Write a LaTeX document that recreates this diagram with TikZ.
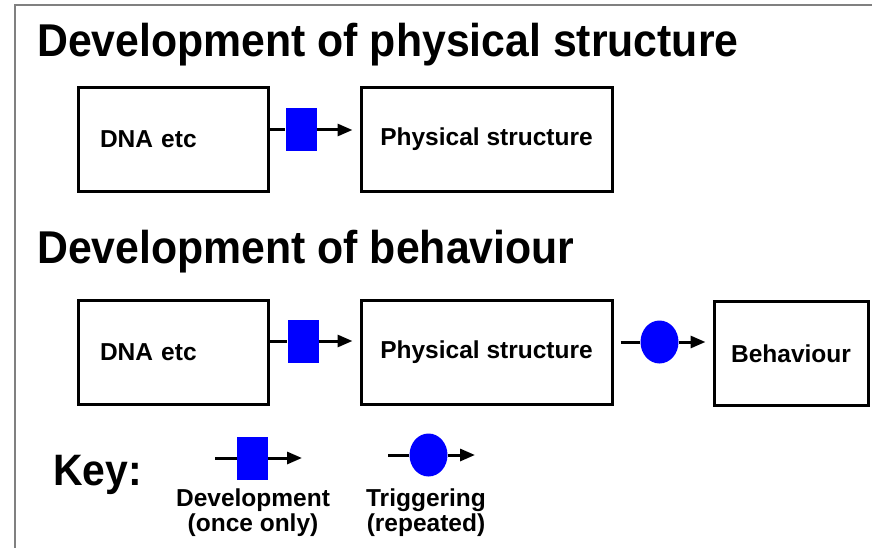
\documentclass[tikz,border=0pt]{standalone}
\usepackage{fontspec}
\setmainfont{Liberation Sans}
\newfontfamily\headfont[FakeStretch=0.93]{Liberation Sans}
\usetikzlibrary{arrows.meta,shapes.geometric}
\begin{document}
\begin{tikzpicture}[x=1pt,y=-1pt,
    box/.style={draw,line width=3pt,minimum height=104pt,
      font=\fontsize{24.5}{28}\selectfont\bfseries},
    dnabox/.style={box,text width=146pt,inner xsep=22pt,align=left},
    dev/.style={fill=blue,minimum width=31pt,minimum height=43pt,inner sep=0pt},
    trig/.style={ellipse,fill=blue,minimum width=38pt,minimum height=43pt,inner sep=0pt},
    link/.style={line width=3pt},
    tip/.style={-{Triangle[length=15pt,width=12pt]}},
    head/.style={anchor=base west,inner sep=0pt,
      font=\headfont\fontsize{46}{50}\selectfont\bfseries},
    keytext/.style={anchor=base,align=center,inner sep=0pt,
      font=\fontsize{24.5}{25}\selectfont\bfseries}]
    \useasboundingbox (0,0) rectangle (872,548);
    \draw[gray,line width=1.5pt] (15,548) -- (15,5) -- (872,5);

    \node[head] (title1) at (37,57) {Development of physical structure};
    \node[dnabox] (dna1) at (173,139.5) {DNA etc};
    \node[box,minimum width=251pt] (phys1) at (486.5,139.5) {Physical structure};
    \node[dev] (dev1) at (301,130) {};

    \node[head] (title2) at (37,263) {Development of behaviour};
    \node[dnabox] (dna2) at (173,352.5) {DNA etc};
    \node[box,minimum width=251pt] (phys2) at (486.5,352.5) {Physical structure};
    \node[box,minimum width=154pt] (beh) at (791,353.5) {Behaviour};
    \node[dev] (dev2) at (303,341) {};
    \node[trig] (trig2) at (659.5,342) {};

    \node[head,font=\headfont\fontsize{44}{48}\selectfont\bfseries] (key) at (53,485) {Key:};
    \node[dev] (keydev) at (252.5,458) {};
    \coordinate (kdin) at (215,458);
    \coordinate (kdout) at (302,458);
    \node[keytext] (keydevtext) at (253,531) {Development\\(once only)};
    \node[trig] (keytrig) at (428.5,455) {};
    \coordinate (ktin) at (388,455);
    \coordinate (ktout) at (475,455);
    \node[keytext] (keytrigtext) at (426,531) {Triggering\\(repeated)};

    \draw[link]
    (dna1.east |- dev1) -- (dev1.west)
    (dna2.east |- dev2) -- (dev2.west)
    (kdin) -- (keydev.west)
    (ktin) -- (keytrig.west);
    \draw[link,shorten <=7pt] (phys2.east |- trig2) -- (trig2.west);
    \draw[link]
    (dev1.east) edge[tip,shorten >=7pt] (phys1.west |- dev1)
    (dev2.east) edge[tip,shorten >=7pt] (phys2.west |- dev2)
    (trig2.east) edge[tip,shorten >=7pt] (beh.west |- trig2)
    (keydev.east) edge[tip] (kdout)
    (keytrig.east) edge[tip] (ktout);
\end{tikzpicture}
\end{document}
